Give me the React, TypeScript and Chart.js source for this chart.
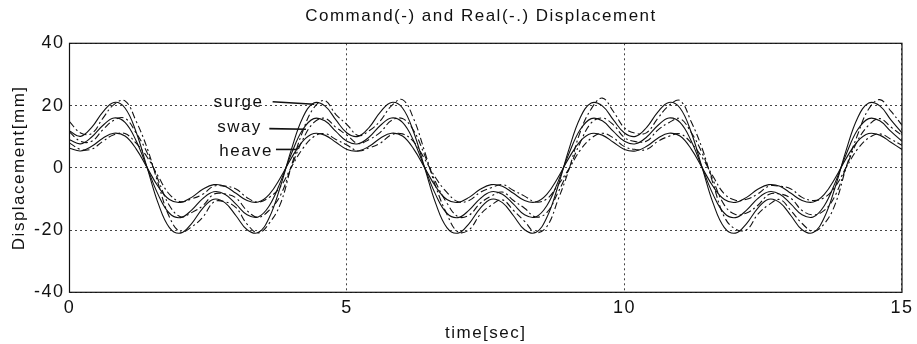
import React, { useEffect, useRef } from 'react';
import { Chart, registerables } from 'chart.js';

Chart.register(...registerables);

const titleText = 'Command(-) and Real(-.) Displacement';
const xTitle = 'time[sec]';
const yTitle = 'Displacement[mm]';
const xTicks = [0, 5, 10, 15];
const yTicks = [-40, -20, 0, 20, 40];

const time = [
  0, 0.2, 0.4, 0.6, 0.8, 1, 1.2, 1.4, 1.6, 1.8, 2, 2.2, 2.4, 2.6, 2.8, 3, 3.2, 3.4, 3.6, 3.8,
  4, 4.2, 4.4, 4.6, 4.8, 5, 5.2, 5.4, 5.6, 5.8, 6, 6.2, 6.4, 6.6, 6.8, 7, 7.2, 7.4, 7.6, 7.8,
  8, 8.2, 8.4, 8.6, 8.8, 9, 9.2, 9.4, 9.6, 9.8, 10, 10.2, 10.4, 10.6, 10.8, 11, 11.2, 11.4, 11.6, 11.8,
  12, 12.2, 12.4, 12.6, 12.8, 13, 13.2, 13.4, 13.6, 13.8, 14, 14.2, 14.4, 14.6, 14.8, 15,
];

const surgeCmd = [
  11.8,
  10.1, 13.0, 17.9, 21.0, 19.2, 11.5, 0, -11.5, -19.2, -21.0, -17.9, -13.0, -10.1, -11.2, -15.4, -19.9, -20.8, -16.0, -6.0, 6.0, 16.0, 20.8, 19.9, 15.4, 11.2,
  10.1, 13.0, 17.9, 21.0, 19.2, 11.5, 0, -11.5, -19.2, -21.0, -17.9, -13.0, -10.1, -11.2, -15.4, -19.9, -20.8, -16.0, -6.0, 6.0, 16.0, 20.8, 19.9, 15.4, 11.2,
  10.1, 13.0, 17.9, 21.0, 19.2, 11.5, 0, -11.5, -19.2, -21.0, -17.9, -13.0, -10.1, -11.2, -15.4, -19.9, -20.8, -16.0, -6.0, 6.0, 16.0, 20.8, 19.9, 15.4, 11.2,
];
const swayCmd = [
  9.0,
  7.7, 9.9, 13.6, 16.0, 14.6, 8.7, 0, -8.7, -14.6, -16.0, -13.6, -9.9, -7.7, -8.5, -11.7, -15.1, -15.8, -12.2, -4.6, 4.6, 12.2, 15.8, 15.1, 11.7, 8.5,
  7.7, 9.9, 13.6, 16.0, 14.6, 8.7, 0, -8.7, -14.6, -16.0, -13.6, -9.9, -7.7, -8.5, -11.7, -15.1, -15.8, -12.2, -4.6, 4.6, 12.2, 15.8, 15.1, 11.7, 8.5,
  7.7, 9.9, 13.6, 16.0, 14.6, 8.7, 0, -8.7, -14.6, -16.0, -13.6, -9.9, -7.7, -8.5, -11.7, -15.1, -15.8, -12.2, -4.6, 4.6, 12.2, 15.8, 15.1, 11.7, 8.5,
];
const heaveCmd = [
  6.3,
  5.4, 6.9, 9.5, 11.1, 10.2, 6.1, 0, -6.1, -10.2, -11.1, -9.5, -6.9, -5.4, -5.9, -8.2, -10.5, -11.0, -8.5, -3.2, 3.2, 8.5, 11.0, 10.5, 8.2, 5.9,
  5.4, 6.9, 9.5, 11.1, 10.2, 6.1, 0, -6.1, -10.2, -11.1, -9.5, -6.9, -5.4, -5.9, -8.2, -10.5, -11.0, -8.5, -3.2, 3.2, 8.5, 11.0, 10.5, 8.2, 5.9,
  5.4, 6.9, 9.5, 11.1, 10.2, 6.1, 0, -6.1, -10.2, -11.1, -9.5, -6.9, -5.4, -5.9, -8.2, -10.5, -11.0, -8.5, -3.2, 3.2, 8.5, 11.0, 10.5, 8.2, 5.9,
];

const surgeReal = [
  14.8,
  11.2, 11.0, 15.9, 20.3, 21.5, 15.0, 6.3, -5.2, -15.8, -20.6, -19.0, -15.9, -11.0, -10.9, -12.8, -18.1, -20.9, -17.8, -11.6, 0.7, 11.6, 19.2, 21.6, 17.1, 13.9,
  10.4, 11.9, 15.1, 19.9, 21.9, 15.8, 5.2, -6.1, -14.9, -20.6, -19.9, -15.0, -12.0, -10.3, -13.7, -17.2, -20.8, -18.9, -10.4, -0.5, 11.4, 18.9, 22.4, 18.1, 12.8,
  11.1, 11.3, 15.9, 20.0, 21.6, 14.9, 6.2, -5.3, -15.8, -19.7, -19.9, -15.0, -11.9, -10.2, -13.8, -17.9, -20.4, -18.0, -11.5, 0.5, 10.6, 18.9, 21.9, 18.2, 13.7,
];
const swayReal = [
  11.5,
  8.5, 8.5, 12.2, 15.3, 15.9, 11.2, 4.8, -4.0, -12.1, -15.7, -14.4, -12.2, -8.5, -8.4, -9.7, -13.8, -15.9, -13.6, -8.9, 0.4, 8.9, 14.5, 15.9, 13.0, 10.5,
  7.8, 9.1, 11.4, 15.2, 15.8, 12.0, 4.0, -4.7, -11.3, -15.7, -15.2, -11.4, -9.1, -7.8, -10.5, -13.0, -15.8, -14.4, -8.0, -0.4, 8.0, 14.4, 16.0, 13.8, 9.7,
  8.4, 8.6, 12.1, 14.5, 15.8, 11.4, 4.7, -4.1, -12.0, -15.0, -14.5, -12.1, -8.6, -8.4, -9.8, -13.7, -15.1, -13.7, -8.8, 0.4, 8.7, 13.7, 15.8, 13.1, 10.4,
];
const heaveReal = [
  8.0,
  5.9, 6.0, 8.5, 10.6, 11.0, 7.9, 3.4, -2.8, -8.5, -10.9, -10.0, -8.5, -5.9, -5.9, -6.8, -9.6, -11.0, -9.5, -6.1, 0.3, 6.1, 10.0, 11.0, 9.1, 7.3,
  5.4, 6.4, 7.9, 10.6, 10.9, 8.4, 2.8, -3.3, -7.9, -10.9, -10.5, -7.9, -6.4, -5.4, -7.3, -9.1, -11.0, -10.0, -5.6, -0.3, 5.6, 9.5, 11.1, 9.6, 6.8,
  5.9, 5.9, 8.5, 10.1, 10.9, 8.0, 3.3, -2.9, -8.4, -10.4, -10.1, -8.4, -5.9, -5.9, -6.8, -9.5, -10.5, -9.6, -6.0, 0.3, 6.0, 9.6, 10.9, 9.2, 7.2,
];

// text annotations anchored in data units: label, text anchor (t, v), leader line (t1, v1) -> (t2, v2)
const annotationLabels = ['surge', 'sway', 'heave'];
const annotationText = [
  [3.045, 19.6],
  [3.063, 11.6],
  [3.183, 3.8],
];
const annotationLines = [
  [3.66, 21.2, 4.41, 20.4],
  [3.6, 12.6, 4.26, 12.4],
  [3.72, 5.9, 4.11, 5.9],
];

const FONT = '"Liberation Sans", Arial, Helvetica, sans-serif';
const INK = '#111';

const toXY = (ys: number[]) => ys.map((y, i) => ({ x: time[i], y }));

export default function App() {
  const ref = useRef<HTMLCanvasElement | null>(null);

  useEffect(() => {
    const canvas = ref.current;
    if (!canvas) return;

    const spacingPlugin = {
      id: 'spacing',
      beforeDraw(chart: any) {
        const ctx = chart.ctx;
        ctx.fillStyle = '#fff';
        ctx.fillRect(0, 0, chart.width, chart.height);
        (ctx as any).letterSpacing = '1.5px';
      },
    };

    const decorPlugin = {
      id: 'decor',
      afterDraw(chart: any) {
        const ctx = chart.ctx;
        const { left, top, right, bottom } = chart.chartArea;
        const xs = chart.scales.x;
        const ys = chart.scales.y;
        ctx.save();
        (ctx as any).letterSpacing = '1.5px';
        // frame
        ctx.strokeStyle = INK;
        ctx.lineWidth = 1.2;
        ctx.setLineDash([]);
        ctx.strokeRect(left, top, right - left, bottom - top);
        // title
        ctx.fillStyle = INK;
        ctx.font = `17px ${FONT}`;
        ctx.textAlign = 'center';
        ctx.textBaseline = 'alphabetic';
        ctx.fillText(titleText, 481, 20.7);
        // annotations
        ctx.font = `17px ${FONT}`;
        annotationLabels.forEach((lab, i) => {
          const [t, v] = annotationText[i];
          ctx.fillText(lab, xs.getPixelForValue(t), ys.getPixelForValue(v));
          const [t1, v1, t2, v2] = annotationLines[i];
          ctx.beginPath();
          ctx.lineWidth = 1.6;
          ctx.moveTo(xs.getPixelForValue(t1), ys.getPixelForValue(v1));
          ctx.lineTo(xs.getPixelForValue(t2), ys.getPixelForValue(v2));
          ctx.stroke();
        });
        ctx.restore();
      },
    };

    const solid = (data: number[]) => ({
      data: toXY(data),
      borderColor: INK,
      borderWidth: 1.1,
      pointRadius: 0,
      tension: 0.4,
      fill: false,
    });
    const dashdot = (data: number[]) => ({
      data: toXY(data),
      borderColor: INK,
      borderWidth: 1.1,
      borderDash: [7, 3, 2, 3],
      pointRadius: 0,
      tension: 0.4,
      fill: false,
    });

    const chart = new Chart(canvas, {
      type: 'line',
      data: {
        datasets: [
          { label: 'surge command', ...solid(surgeCmd) },
          { label: 'sway command', ...solid(swayCmd) },
          { label: 'heave command', ...solid(heaveCmd) },
          { label: 'surge real', ...dashdot(surgeReal) },
          { label: 'sway real', ...dashdot(swayReal) },
          { label: 'heave real', ...dashdot(heaveReal) },
        ] as any,
      },
      options: {
        animation: false,
        responsive: false,
        maintainAspectRatio: false,
        devicePixelRatio: 1,
        layout: { padding: { top: 43.3, right: 12.5, left: 0, bottom: 0 } },
        plugins: {
          legend: { display: false },
          title: { display: false },
          tooltip: { enabled: false },
        },
        scales: {
          x: {
            type: 'linear',
            min: 0,
            max: 15,
            afterFit(s: any) {
              s.height = 51.7;
            },
            afterBuildTicks(s: any) {
              s.ticks = xTicks.map((v) => ({ value: v }));
            },
            ticks: {
              color: INK,
              font: { family: FONT, size: 18 },
              padding: 5,
              maxRotation: 0,
              autoSkip: false,
              callback: (v: any) => String(v),
            },
            grid: {
              color: '#444',
              lineWidth: 1,
              drawTicks: false,
              borderDash: [2, 3],
            } as any,
            border: { display: false, dash: [2, 3] } as any,
            title: {
              display: true,
              text: xTitle,
              color: INK,
              font: { family: FONT, size: 17 },
              padding: { top: 1, bottom: 0 },
            },
          },
          y: {
            type: 'linear',
            min: -40,
            max: 40,
            afterFit(s: any) {
              s.width = 69.5;
            },
            afterBuildTicks(s: any) {
              s.ticks = yTicks.map((v) => ({ value: v }));
            },
            ticks: {
              color: INK,
              font: { family: FONT, size: 18 },
              padding: 5,
              autoSkip: false,
              callback: (v: any) => String(v),
            },
            grid: {
              color: '#444',
              lineWidth: 1,
              drawTicks: false,
            },
            border: { display: false, dash: [2, 3] } as any,
            title: {
              display: true,
              text: yTitle,
              color: INK,
              font: { family: FONT, size: 17 },
              padding: { top: 9, bottom: 0 },
            },
          },
        },
      } as any,
      plugins: [spacingPlugin, decorPlugin],
    });

    return () => chart.destroy();
  }, []);

  return (
    <div style={{ position: 'absolute', left: 0, top: 0, width: 917, height: 344, background: '#fff' }}>
      <canvas ref={ref} width={917} height={344} style={{ display: 'block', width: 917, height: 344 }} />
    </div>
  );
}
